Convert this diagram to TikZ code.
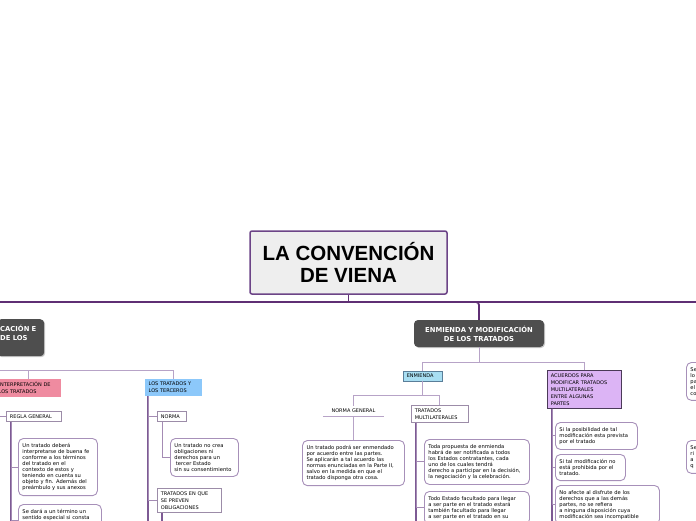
\documentclass[tikz,border=0pt]{standalone}
\usepackage{fontspec}
\setmainfont{DejaVu Sans}
\newfontfamily\rootfont{Liberation Sans}
\usetikzlibrary{shadows}
\definecolor{mainline}{HTML}{5F2F74}
\definecolor{rootborder}{HTML}{6C4487}
\definecolor{rootfill}{HTML}{EEEEEE}
\definecolor{subline}{HTML}{7D5A94}
\definecolor{thinline}{HTML}{B7A3C7}
\definecolor{noteborder}{HTML}{A790B9}
\definecolor{tagborder}{HTML}{9C8CA8}
\definecolor{darkbox}{HTML}{4E4E4E}
\definecolor{pinkfill}{HTML}{EF8BA0}
\definecolor{bluefill}{HTML}{8CC8FA}
\definecolor{cyanfill}{HTML}{A8DEF2}
\definecolor{cyanborder}{HTML}{5A7E99}
\definecolor{lilacfill}{HTML}{DCB4F5}
\definecolor{lilacborder}{HTML}{4B3A58}

\begin{document}
\begin{tikzpicture}[x=1pt,y=-1pt,
  mainconn/.style={draw=mainline,line width=1.8pt},
  subconn/.style={draw=subline,line width=1.5pt},
  thinconn/.style={draw=thinline,line width=1pt},
  branch/.style={draw=subline!70,line width=1pt},
  rootbox/.style={draw=rootborder,line width=1.5pt,fill=rootfill,rounded corners=2pt,
    font=\rootfont\bfseries\fontsize{20.5}{22}\selectfont,align=center,
    minimum width=197pt,minimum height=63pt},
  topic/.style={fill=darkbox,text=white,rounded corners=4pt,inner xsep=3pt,
    font=\bfseries\fontsize{6.8}{9}\selectfont,align=center,
    drop shadow={shadow xshift=1pt,shadow yshift=-1pt,fill=black!35,opacity=.6}},
  tagbox/.style={anchor=north west,align=left,inner xsep=3.5pt,inner ysep=3pt,
    font=\fontsize{5}{7}\selectfont},
  whitetag/.style={tagbox,draw=tagborder,fill=white,line width=.8pt,
    drop shadow={shadow xshift=.8pt,shadow yshift=-.8pt,fill=black!30,opacity=.5}},
  notebox/.style={anchor=north west,align=left,draw=noteborder,fill=white,line width=.9pt,
    rounded corners=5pt,inner xsep=4pt,inner ysep=5pt,font=\fontsize{5.2}{6}\selectfont}]
\useasboundingbox (0,0) rectangle (696,520);
\clip (0,0) rectangle (696,520);

\node[rootbox] (root) at (348.5,262.5) {LA CONVENCIÓN\\DE VIENA};
\coordinate (trunkw) at (-10,302);
\coordinate (trunke) at (710,302);
\draw[mainconn] (trunkw) -- (trunke);
\draw[mainconn] (root.south) -- (root.south |- trunkw);

% left branch
\node[topic,anchor=north west,text width=41pt,align=left,minimum height=37pt] (aplic) at (-3,319) {CACIÓN E\\DE LOS\\\mbox{}};
\node[tagbox,fill=pinkfill,text width=59pt] (interp) at (-5,379) {INTERPRETACIÓN DE\\LOS TRATADOS};
\node[tagbox,fill=bluefill,text width=50pt] (tercer) at (145,379) {LOS TRATADOS Y\\LOS TERCEROS};
\coordinate (aplicsplit) at (-30,370);
\draw[thinconn] (aplicsplit) -| (tercer.north);
\draw[thinconn] (interp.north) -- (interp.north |- aplicsplit);

\node[whitetag,text width=48pt] (rg) at (6,411) {REGLA GENERAL};
\draw[subconn] ([xshift=4pt]interp.south west) -- ++(0,130);
\draw[branch] ([xshift=4pt]interp.south west) |- (rg.west);
\node[notebox,text width=71pt] (rg1) at (18,438) {Un tratado deberá\\interpretarse de buena fe\\conforme a los términos\\del tratado en el\\contexto de estos y\\teniendo en cuenta su\\objeto y fin. Además del\\preámbulo y sus anexos};
\node[notebox,text width=75pt] (rg2) at (18,504) {Se dará a un término un\\sentido especial si consta\\\mbox{}\\\mbox{}};
\draw[subconn] ([xshift=5pt]rg.south west) -- ++(0,110);
\draw[branch] ([xshift=5pt]rg.south west) |- (rg1.west);
\draw[branch] ([xshift=5pt]rg.south west) |- (rg2.west);

\node[whitetag,text width=22pt] (norma) at (157,411) {NORMA};
\node[notebox,text width=60pt] (normanote) at (170,438) {Un tratado no crea\\obligaciones ni\\derechos para un\\\hspace*{1.5pt}tercer Estado\\sin su consentimiento};
\node[whitetag,text width=57pt] (teq) at (157,488) {TRATADOS EN QUE\\SE PREVEN\\OBLIGACIONES};
\draw[subconn] ([xshift=3pt]tercer.south west) -- ++(0,130);
\draw[branch] ([xshift=3pt]tercer.south west) |- (norma.west);
\draw[branch] ([xshift=3pt]tercer.south west) |- (teq.west);
\draw[branch] ([xshift=5pt]norma.south west) |- (normanote.west);
\draw[subconn] ([xshift=5pt]teq.south west) -- ++(0,15);

% middle branch
\node[topic,minimum width=130pt,minimum height=27pt] (enmod) at (479,333.5) {ENMIENDA Y MODIFICACIÓN\\DE LOS TRATADOS};
\coordinate (enmodjoin) at (470,302);
\draw[mainconn,rounded corners=3pt] (enmodjoin) -| (enmod.north);
\node[tagbox,fill=cyanfill,draw=cyanborder,line width=.6pt,text width=32pt] (enm) at (403,371) {ENMIENDA};
\node[tagbox,fill=lilacfill,draw=lilacborder,line width=.8pt,text width=67pt] (acu) at (547,370) {ACUERDOS PARA\\MODIFICAR TRATADOS\\MULTILATERALES\\ENTRE ALGUNAS\\PARTES};
\draw[thinconn] (enmod.south) -- ++(0,15) coordinate (enmodsplit);
\draw[thinconn] (enm.north) |- (enmodsplit) -| (acu.north);

\node[font=\fontsize{5}{7}\selectfont,minimum width=61pt,inner ysep=3pt] (ng) at (353.5,411) {NORMA GENERAL};
\node[whitetag,text width=50pt] (tm) at (411,405) {TRATADOS\\MULTILATERALES};
\draw[thinconn] (enm.south) -- ++(0,14) coordinate (enmsplit);
\draw[thinconn] (ng.north) |- (enmsplit) -| (tm.north);
\draw[thinconn] (ng.south west) -- (ng.south east);
\node[notebox,text width=94pt,anchor=north] (ngnote) at (353.5,440) {Un tratado podrá ser enmendado\\por acuerdo entre las partes.\\Se aplicarán a tal acuerdo las\\normas enunciadas en la Parte II,\\salvo en la medida en que el\\tratado disponga otra cosa.};
\draw[thinconn] (ng.south) -- (ngnote.north);

\node[notebox,text width=97pt] (tm1) at (424,439) {Toda propuesta de enmienda\\habrá de ser notificada a todos\\los Estados contratantes, cada\\uno de los cuales tendrá\\derecho a participar en la decisión,\\la negociación y la celebración.};
\node[notebox,text width=97pt] (tm2) at (424,491) {Todo Estado facultado para llegar\\a ser parte en el tratado estará\\también facultado para llegar\\a ser parte en el tratado en su};
\draw[subconn] ([xshift=5pt]tm.south west) -- ++(0,110);
\draw[branch] ([xshift=5pt]tm.south west) |- (tm1.west);
\draw[branch] ([xshift=5pt]tm.south west) |- (tm2.west);

\node[notebox,text width=74pt] (acu1) at (555,422) {Si la posibilidad de tal\\modificación esta prevista\\por el tratado};
\node[notebox,text width=62pt] (acu2) at (555,454) {Si tal modificación no\\está prohibida por el\\tratado.};
\node[notebox,text width=96pt] (acu3) at (555,485) {No afecte al disfrute de los\\derechos que a las demás\\partes, no se refiera\\a ninguna disposición cuya\\modificación sea incompatible};
\draw[subconn] ([xshift=5pt]acu.south west) -- ++(0,120);
\draw[branch] ([xshift=5pt]acu.south west) |- (acu1.west);
\draw[branch] ([xshift=5pt]acu.south west) |- (acu2.west);
\draw[branch] ([xshift=5pt]acu.south west) |- (acu3.west);

% right edge
\node[notebox,text width=100pt] (right1) at (686,362) {Se\\lo\\pa\\el\\co};
\node[notebox,text width=100pt] (right2) at (686,440) {Se\\ri\\a\\q};
\end{tikzpicture}
\end{document}
